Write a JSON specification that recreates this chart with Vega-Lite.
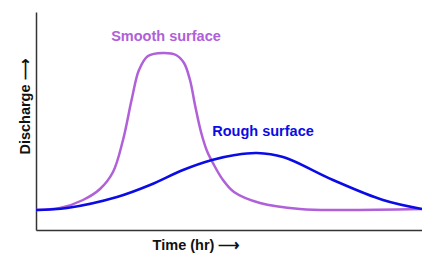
{
  "$schema": "https://vega.github.io/schema/vega-lite/v6.json",
  "width": 386,
  "height": 218,
  "autosize": {"type": "none"},
  "padding": {"left": 36, "top": 12, "right": 0, "bottom": 23},
  "background": "white",
  "config": {
    "view": {"stroke": null},
    "font": "Liberation Sans",
    "axis": {"grid": false, "ticks": false, "labels": false, "domainColor": "#333333", "domainWidth": 1.5, "titleFont": "Liberation Sans", "titleFontSize": 14.5, "titleFontWeight": "bold", "titleColor": "#111111"}
  },
  "datasets": {
    "curves": [
      {"series": "Smooth surface", "t": 0, "q": 20},
      {"series": "Smooth surface", "t": 24, "q": 22},
      {"series": "Smooth surface", "t": 47, "q": 30},
      {"series": "Smooth surface", "t": 64, "q": 41},
      {"series": "Smooth surface", "t": 77, "q": 58},
      {"series": "Smooth surface", "t": 87, "q": 90},
      {"series": "Smooth surface", "t": 96, "q": 132},
      {"series": "Smooth surface", "t": 103, "q": 160},
      {"series": "Smooth surface", "t": 112, "q": 174},
      {"series": "Smooth surface", "t": 127, "q": 177},
      {"series": "Smooth surface", "t": 140, "q": 175},
      {"series": "Smooth surface", "t": 148, "q": 167},
      {"series": "Smooth surface", "t": 154, "q": 150},
      {"series": "Smooth surface", "t": 159, "q": 125},
      {"series": "Smooth surface", "t": 165, "q": 98},
      {"series": "Smooth surface", "t": 171, "q": 79},
      {"series": "Smooth surface", "t": 178, "q": 65},
      {"series": "Smooth surface", "t": 187, "q": 50},
      {"series": "Smooth surface", "t": 198, "q": 38},
      {"series": "Smooth surface", "t": 224, "q": 27},
      {"series": "Smooth surface", "t": 264, "q": 21},
      {"series": "Smooth surface", "t": 304, "q": 20},
      {"series": "Smooth surface", "t": 386, "q": 21},
      {"series": "Rough surface", "t": 0, "q": 20},
      {"series": "Rough surface", "t": 31, "q": 22},
      {"series": "Rough surface", "t": 81, "q": 33},
      {"series": "Rough surface", "t": 114, "q": 45},
      {"series": "Rough surface", "t": 147, "q": 60},
      {"series": "Rough surface", "t": 176, "q": 70},
      {"series": "Rough surface", "t": 199, "q": 75},
      {"series": "Rough surface", "t": 221, "q": 77},
      {"series": "Rough surface", "t": 247, "q": 73},
      {"series": "Rough surface", "t": 297, "q": 50},
      {"series": "Rough surface", "t": 347, "q": 30},
      {"series": "Rough surface", "t": 386, "q": 21}
    ],
    "labels": [
      {"series": "Smooth surface", "t": 130, "q": 193},
      {"series": "Rough surface", "t": 227, "q": 98}
    ]
  },
  "layer": [
    {
      "data": {"name": "curves"},
      "mark": {"type": "line", "interpolate": "catmull-rom", "strokeWidth": 2.5, "clip": false},
      "encoding": {
        "x": {"field": "t", "type": "quantitative", "scale": {"domain": [0, 386], "nice": false, "zero": false}, "axis": {"title": "Time (hr)  ⟶", "titleX": 160, "titleY": 15, "titleAnchor": null, "titleAlign": "center", "titleBaseline": "middle"}},
        "y": {"field": "q", "type": "quantitative", "scale": {"domain": [0, 218], "nice": false, "zero": false}, "axis": {"title": "Discharge  ⟶", "titleX": -11, "titleY": 94, "titleAngle": -90, "titleAlign": "center", "titleBaseline": "middle"}},
        "color": {"field": "series", "type": "nominal", "scale": {"domain": ["Smooth surface", "Rough surface"], "range": ["#b060d8", "#0b0be6"]}, "legend": null},
        "detail": {"field": "series"}
      }
    },
    {
      "data": {"name": "labels"},
      "mark": {"type": "text", "font": "Liberation Sans", "fontSize": 14.5, "fontWeight": "bold", "align": "center", "baseline": "middle"},
      "encoding": {
        "x": {"field": "t", "type": "quantitative"},
        "y": {"field": "q", "type": "quantitative"},
        "text": {"field": "series"},
        "color": {"field": "series", "type": "nominal", "scale": {"domain": ["Smooth surface", "Rough surface"], "range": ["#b060d8", "#0b0be6"]}, "legend": null}
      }
    }
  ]
}
